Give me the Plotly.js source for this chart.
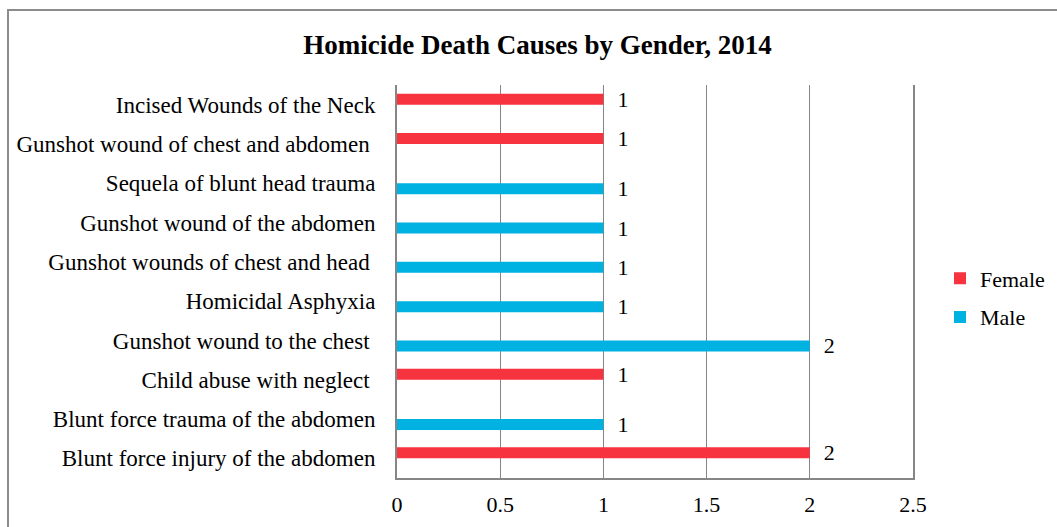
<!DOCTYPE html>
<html>
<head>
<meta charset="utf-8">
<script src="https://cdn.plot.ly/plotly-3.0.1.min.js"></script>
<style>
  body { margin: 0; background: #fff; }
  #wrap { position: relative; width: 1057px; height: 527px; overflow: hidden; }
  #chart { width: 1057px; height: 527px; }
  #frame { position: absolute; left: 7px; top: 9px; width: 1200px; height: 700px;
           border: 2px solid #8c8c8c; pointer-events: none; }
</style>
</head>
<body>
<div id="wrap">
  <div id="chart"></div>
  <div id="frame"></div>
</div>
<script>
// categories, bottom to top as drawn
const causes = [
    'Blunt force injury of the abdomen',
    'Blunt force trauma of the abdomen',
    'Child abuse with neglect ',
    'Gunshot wound to the chest ',
    'Homicidal Asphyxia',
    'Gunshot wounds of chest and head ',
    'Gunshot wound of the abdomen',
    'Sequela of blunt head trauma',
    'Gunshot wound of chest and abdomen ',
    'Incised Wounds of the Neck'
];
const femaleCounts = [2, null, 1, null, null, null, null, null, 1, 1];
const maleCounts = [null, 1, null, 2, 1, 1, 1, 1, null, null];
const xTicks = [0, 0.5, 1, 1.5, 2, 2.5];

const serif = '"Liberation Serif", "Times New Roman", serif';
const pad = '\u00a0\u00a0';
const labelFont = { family: serif, size: 22, color: '#000' };

// male first so it sits in the lower slot of each group
const maleTrace = {
    type: 'bar',
    orientation: 'h',
    name: 'Male',
    legendgroup: 'm',
    legendrank: 2,
    y: causes,
    x: maleCounts,
    marker: { color: '#00b2e2' },
    texttemplate: pad + '%{x}',
    textposition: 'outside',
    constraintext: 'none',
    cliponaxis: false,
    textfont: labelFont,
    outsidetextfont: labelFont,
    hoverinfo: 'y+x'
};

const femaleTrace = {
    type: 'bar',
    orientation: 'h',
    name: 'Female',
    legendgroup: 'f',
    legendrank: 1,
    y: causes,
    x: femaleCounts,
    marker: { color: '#f7333f' },
    texttemplate: pad + '%{x}',
    textposition: 'outside',
    constraintext: 'none',
    cliponaxis: false,
    textfont: labelFont,
    outsidetextfont: labelFont,
    hoverinfo: 'y+x'
};

const layout = {
    width: 1057,
    height: 527,
    paper_bgcolor: '#fff',
    plot_bgcolor: '#fff',
    font: { family: serif, size: 22, color: '#000' },
    title: {
        text: '<b>Homicide Death Causes by Gender, 2014</b>',
        font: { family: serif, size: 27, color: '#000' },
        xref: 'container', x: 0.5085,
        yref: 'container', y: 0.915, yanchor: 'middle'
    },
    barmode: 'group',
    bargap: 0.44,
    bargroupgap: 0,
    margin: { l: 397, r: 144, t: 85, b: 49, autoexpand: false },
    xaxis: {
        range: [0, 2.5],
        tickvals: xTicks,
        ticktext: xTicks.map(String),
        showgrid: true,
        gridcolor: '#868686',
        gridwidth: 1,
        showline: true,
        linecolor: '#868686',
        linewidth: 2,
        zeroline: false,
        ticks: '',
        ticklabelstandoff: 6,
        tickfont: labelFont,
        fixedrange: true
    },
    yaxis: {
        type: 'category',
        categoryorder: 'array',
        categoryarray: causes,
        showline: true,
        mirror: true,
        linecolor: '#868686',
        linewidth: 2,
        showgrid: false,
        ticks: '',
        ticklabelstandoff: 15,
        tickfont: { family: serif, size: 23, color: '#000' },
        fixedrange: true
    },
    legend: {
        xref: 'container', x: 940 / 1057, xanchor: 'left',
        y: 0.458, yanchor: 'middle',
        traceorder: 'grouped',
        tracegroupgap: 7,
        font: labelFont,
        itemwidth: 30
    },
    showlegend: true
};

Plotly.newPlot('chart', [maleTrace, femaleTrace], layout, { displayModeBar: false, staticPlot: true });
</script>
</body>
</html>
